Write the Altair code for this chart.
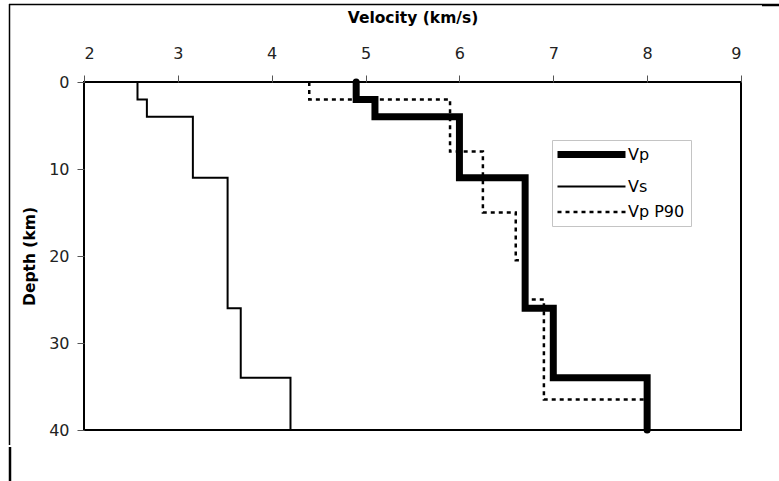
import altair as alt
import pandas as pd

# Layered crustal velocity model: layer boundaries (km) and interval velocities (km/s)
series_names = ["Vp", "Vs", "Vp P90"]

vp_depths = [0, 2, 4, 11, 26, 34, 40]
vp_vel = [4.9, 5.1, 6.0, 6.7, 7.0, 8.0]

vs_depths = [0, 2, 4, 11, 26, 34, 40]
vs_vel = [2.57, 2.67, 3.16, 3.53, 3.67, 4.20]

p90_depths = [0, 2, 8, 15, 20.5, 25, 36.5, 40]
p90_vel = [4.4, 5.9, 6.25, 6.6, 6.7, 6.9, 8.0]

x_ticks = [2, 3, 4, 5, 6, 7, 8, 9]
y_ticks = [0, 10, 20, 30, 40]


def profile(name, depths, vel):
    """Turn interval velocities into a staircase: one vertex at top and bottom of each layer."""
    rows = []
    k = 0
    for i, v in enumerate(vel):
        for d in (depths[i], depths[i + 1]):
            rows.append({"series": name, "velocity": v, "depth": d, "order": k})
            k += 1
    return rows


df = pd.DataFrame(
    profile("Vp P90", p90_depths, p90_vel)
    + profile("Vs", vs_depths, vs_vel)
    + profile("Vp", vp_depths, vp_vel)
)

FONT = "DejaVu Sans"

# A long horizontal stroke as the legend swatch, kept small in layout terms
legend = alt.Legend(
    title=None,
    orient="none",
    legendX=468,
    legendY=58,
    symbolType="M-1.8,0H11.8",
    symbolSize=100,
    symbolStrokeColor="black",
    symbolFillColor="transparent",
    labelFont=FONT,
    labelFontSize=16,
    labelColor="black",
    labelOffset=53,
    fillColor="white",
    strokeColor="#c4c4c4",
    padding=6,
    rowPadding=9.5,
)

x_enc = alt.X(
    "velocity:Q",
    scale=alt.Scale(domain=[2, 9], nice=False, zero=False),
    axis=alt.Axis(
        orient="top",
        values=x_ticks,
        title="Velocity (km/s)",
        titlePadding=20,
        labelPadding=14,
        tickSize=7,
    ),
)
y_enc = alt.Y(
    "depth:Q",
    scale=alt.Scale(domain=[0, 40], reverse=True, nice=False, zero=False),
    axis=alt.Axis(
        values=y_ticks,
        title="Depth (km)",
        titlePadding=11,
        labelPadding=8,
        tickSize=7,
    ),
)
width_enc = alt.StrokeWidth(
    "series:N",
    scale=alt.Scale(type="ordinal", domain=series_names, range=[7, 2, 2.5]),
    legend=legend,
)
dash_enc = alt.StrokeDash(
    "series:N",
    scale=alt.Scale(domain=series_names, range=[[1, 0], [1, 0], [4, 4]]),
    legend=legend,
)

base = alt.Chart(df).encode(
    x=x_enc,
    y=y_enc,
    order=alt.Order("order:Q"),
    strokeWidth=width_enc,
    strokeDash=dash_enc,
)

p90_line = base.transform_filter(alt.datum.series == "Vp P90").mark_line(
    color="black", strokeCap="butt", strokeJoin="miter"
)
vs_line = base.transform_filter(alt.datum.series == "Vs").mark_line(
    color="black", strokeCap="square", strokeJoin="miter"
)
vp_line = base.transform_filter(alt.datum.series == "Vp").mark_line(
    color="black", strokeCap="round", strokeJoin="miter"
)

# page frame around the figure
one = alt.Data(values=[{"k": 0}])
frame_top = alt.Chart(one).mark_rule(color="black", strokeWidth=1.5).encode(
    x=alt.value(-75), x2=alt.value(678), y=alt.value(-77.5)
)
frame_top_right = alt.Chart(one).mark_rule(color="black", strokeWidth=2.5).encode(
    x=alt.value(678), x2=alt.value(700), y=alt.value(-77)
)
frame_left = alt.Chart(one).mark_rule(color="black", strokeWidth=1.5).encode(
    x=alt.value(-74.5), y=alt.value(-78), y2=alt.value(363)
)
frame_left_low = alt.Chart(one).mark_rule(color="black", strokeWidth=2.5).encode(
    x=alt.value(-74), y=alt.value(365), y2=alt.value(400)
)

chart = (
    alt.layer(
        p90_line, vs_line, vp_line,
        frame_top, frame_top_right, frame_left, frame_left_low,
    )
    .properties(
        width=657,
        height=348,
        padding={"left": 84, "top": 82, "right": 38, "bottom": 51},
        autosize=alt.AutoSizeParams(type="none"),
        background="white",
    )
    .configure_view(stroke="black", strokeWidth=2)
    .configure_axis(
        domain=False,
        grid=False,
        labelFont=FONT,
        labelFontSize=16,
        labelColor="#222222",
        titleFont=FONT,
        titleFontSize=15.5,
        titleFontWeight="bold",
        titleColor="black",
        tickColor="#555555",
        tickWidth=1,
    )
)

chart.save("out.html", embed_options={"renderer": "svg", "actions": False})
